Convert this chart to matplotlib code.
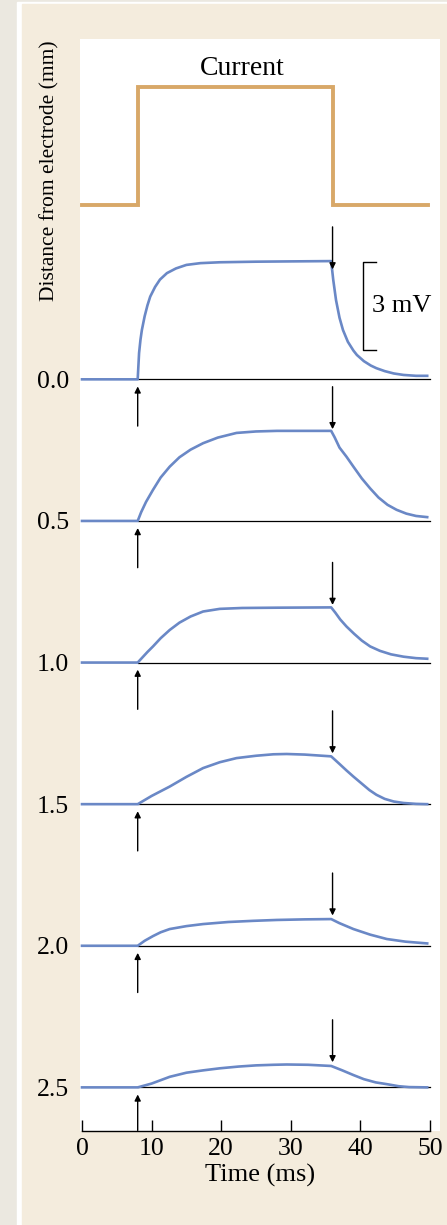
#!/usr/bin/env python3
# Passive spread of a current step along an axon: membrane potential
# recorded at increasing distances from the injecting electrode.

import numpy as np
import matplotlib.pyplot as plt
from matplotlib.patches import Rectangle

plt.rcParams['font.family'] = ['Liberation Serif', 'DejaVu Serif']

# current pulse (on/off) against time in ms
current_t = [0, 8, 8, 36, 36, 49.7]
current_on = [0, 0, 1, 1, 0, 0]

# recording sites, mm from the electrode
distances = [0.0, 0.5, 1.0, 1.5, 2.0, 2.5]

# voltage responses (mV above rest), one (time, value) list per site
trace_t = [
    [0, 8.0, 8.2, 8.4, 8.6, 9.0, 9.4, 9.8, 10.5, 11.2, 12.2, 13.5, 15.0, 17.0, 19.8,
     25, 30, 35.8, 36.1, 36.5, 37.0, 37.5, 38.2, 39.0, 39.5, 40.5, 41.5, 42.3,
     43.5, 44.8, 46.2, 48.0, 49.6],
    [0, 8.0, 8.5, 9.2, 10.2, 11.3, 12.6, 14.0, 15.6, 17.4, 19.5, 22.2, 25, 28, 35.8,
     36.3, 37.0, 38.0, 39.0, 40.2, 41.4, 42.6, 43.9, 45.2, 46.6, 48.0, 49.6],
    [0, 8.0, 8.7, 9.4, 10.2, 11.3, 12.6, 14.0, 15.6, 17.4, 19.8, 23, 28, 35.8,
     36.4, 37.1, 38.0, 39.1, 40.2, 41.4, 42.8, 44.4, 46.2, 48.0, 49.6],
    [0, 8.0, 10.0, 12.6, 15.0, 17.4, 19.8, 22.2, 25.0, 27.5, 29.4, 32.0, 35.8,
     37.0, 38.0, 39.0, 40.2, 41.3, 42.3, 43.5, 44.8, 46.2, 48.0, 49.6],
    [0, 8.0, 9.0, 10.2, 11.3, 12.6, 15.0, 17.4, 21.0, 24.6, 28.0, 32.0, 35.8,
     37.0, 39.0, 41.4, 43.8, 46.5, 49.6],
    [0, 8.0, 10.0, 12.6, 15.0, 17.4, 19.8, 22.5, 25.0, 27.5, 29.4, 32.5, 35.8,
     37.4, 39.0, 40.5, 42.2, 43.8, 45.5, 47.0, 49.6],
]
trace_mv = [
    [0, 0, 0.90, 1.35, 1.68, 2.15, 2.52, 2.82, 3.15, 3.40, 3.62, 3.78, 3.90, 3.96, 3.99,
     4.01, 4.02, 4.03, 3.39, 2.70, 2.10, 1.68, 1.28, 0.98, 0.83, 0.62, 0.47, 0.38,
     0.28, 0.20, 0.15, 0.12, 0.12],
    [0, 0, 0.30, 0.65, 1.06, 1.48, 1.85, 2.17, 2.43, 2.65, 2.84, 3.00, 3.05, 3.07, 3.07,
     2.85, 2.50, 2.19, 1.85, 1.45, 1.11, 0.80, 0.55, 0.38, 0.25, 0.17, 0.13],
    [0, 0, 0.18, 0.36, 0.55, 0.83, 1.11, 1.36, 1.57, 1.74, 1.83, 1.86, 1.87, 1.88,
     1.70, 1.47, 1.23, 0.98, 0.75, 0.55, 0.40, 0.28, 0.20, 0.15, 0.13],
    [0, 0, 0.28, 0.60, 0.93, 1.23, 1.43, 1.57, 1.65, 1.70, 1.71, 1.69, 1.63,
     1.37, 1.15, 0.94, 0.70, 0.48, 0.32, 0.18, 0.09, 0.04, 0.01, 0.0],
    [0, 0, 0.17, 0.33, 0.46, 0.57, 0.67, 0.74, 0.81, 0.85, 0.88, 0.90, 0.91,
     0.77, 0.57, 0.38, 0.23, 0.14, 0.08],
    [0, 0, 0.13, 0.36, 0.50, 0.58, 0.65, 0.71, 0.75, 0.77, 0.78, 0.77, 0.73,
     0.58, 0.42, 0.28, 0.17, 0.11, 0.04, 0.01, 0.0],
]

t_on, t_off = 8, 36
mm_per_mv = 0.1036          # vertical scale of the voltage traces
scale_bar_mv = (1.0, 4.0)   # 3 mV bar, in trace-0 units

blue = '#6a88c6'
tan = '#d8a868'

W, H = 447, 1225
fig = plt.figure(figsize=(W / 100, H / 100), dpi=100, facecolor='#ebe8e0')
fig.patches.append(Rectangle((17 / W, 0), 430 / W, 1 - 2 / H,
                             transform=fig.transFigure, color='white', zorder=-3))
fig.patches.append(Rectangle((22 / W, 0), 425 / W, 1 - 4 / H,
                             transform=fig.transFigure, color='#f4ecdd', zorder=-2))

ax = fig.add_axes([80 / W, 94 / H, 360 / W, 1092 / H])
ax.set_facecolor('white')
ax.set_xlim(-0.29, 51.44)
ax.set_ylim(2.654, -1.2017)

# current step, drawn above the voltage traces
cur_base, cur_height = -0.6155, 0.4165
ax.plot(current_t, cur_base - np.array(current_on) * cur_height,
        color=tan, lw=2.8, solid_joinstyle='miter')
ax.text(23, -1.098, 'Current', ha='center', va='center', fontsize=20)

arrow = dict(arrowstyle='-|>', color='black', lw=1.0,
             mutation_scale=9, shrinkA=0, shrinkB=0)

for d, tt, mv in zip(distances, trace_t, trace_mv):
    tt = np.array(tt)
    y = d - np.array(mv) * mm_per_mv
    ax.plot([t_on, 50], [d, d], color='black', lw=0.9, zorder=2)
    ax.plot(tt, y, color=blue, lw=1.9, zorder=3, solid_joinstyle='round')
    # current on (up arrow below) and off (down arrow above)
    up_start = min(d + 0.165, 2.652)
    ax.annotate('', xy=(t_on, d + 0.025), xytext=(t_on, up_start), arrowprops=arrow)
    y_off = np.interp(t_off, tt, y)
    ax.annotate('', xy=(t_off, y_off - 0.015), xytext=(t_off, y_off - 0.165),
                arrowprops=arrow)

# 3 mV scale bar next to the first trace
top = distances[0] - scale_bar_mv[1] * mm_per_mv
bot = distances[0] - scale_bar_mv[0] * mm_per_mv
ax.plot([42.2, 40.4, 40.4, 42.2], [top, top, bot, bot], color='black', lw=1.0)
ax.text(41.7, (top + bot) / 2, '3 mV', ha='left', va='center', fontsize=19)

for s in ['left', 'right', 'top']:
    ax.spines[s].set_visible(False)
ax.spines['bottom'].set_bounds(0, 50)
ax.spines['bottom'].set_linewidth(1.0)
ax.set_xticks([0, 10, 20, 30, 40, 50])
ax.tick_params(axis='x', direction='in', length=8, width=1.0, pad=5, labelsize=18.5)
ax.set_yticks(distances)
ax.set_yticklabels(['%.1f' % d for d in distances])
ax.tick_params(axis='y', length=0, pad=8, labelsize=18.5)
ax.set_xlabel('Time (ms)', fontsize=19, labelpad=3)

fig.text(50 / W, 1 - 171 / H, 'Distance from electrode (mm)', rotation=90,
         ha='center', va='center', fontsize=15.5)

fig.savefig('out.png', dpi=100, facecolor=fig.get_facecolor())
